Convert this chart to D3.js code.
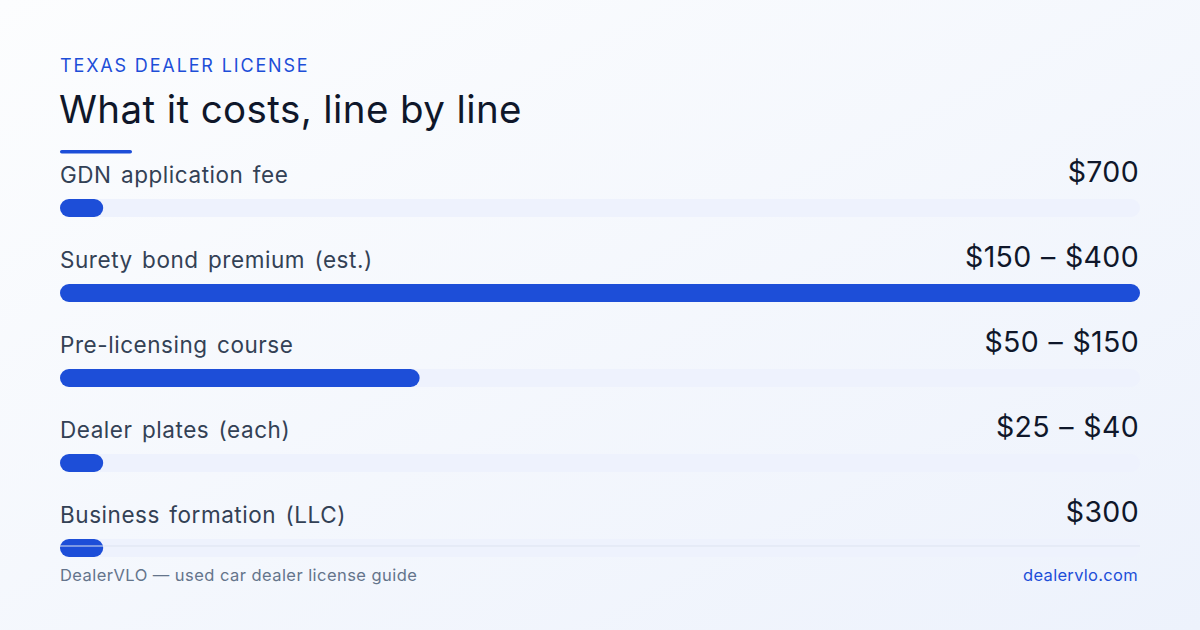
<!DOCTYPE html>
<html>
<head>
<meta charset="utf-8">
<script src="https://cdn.jsdelivr.net/npm/d3@7"></script>
<style>
  html, body { margin: 0; padding: 0; }
  body { width: 1200px; height: 630px; overflow: hidden; font-family: Inter, "Noto Sans", sans-serif; }
</style>
</head>
<body>
<div id="chart"></div>
<script>
const width = 1200,
  height = 630;
const margin = { top: 0, right: 60, bottom: 0, left: 60 };

// line items, their price text and the bar fill share
const items = [
  "GDN application fee",
  "Surety bond premium (est.)",
  "Pre-licensing course",
  "Dealer plates (each)",
  "Business formation (LLC)",
];
const prices = ["$700", "$150 – $400", "$50 – $150", "$25 – $40", "$300"];
const shares = [0.04, 1, 0.333, 0.04, 0.04];

const blue = "#1d4ed8";

const svg = d3
  .select("#chart")
  .append("svg")
  .attr("width", width)
  .attr("height", height);

const defs = svg.append("defs");
const grad = defs
  .append("linearGradient")
  .attr("id", "bg")
  .attr("x1", "0")
  .attr("y1", "0")
  .attr("x2", "1")
  .attr("y2", "1");
grad.append("stop").attr("offset", "0%").attr("stop-color", "#fcfdfe");
grad.append("stop").attr("offset", "100%").attr("stop-color", "#edf2fc");

svg.append("rect").attr("width", width).attr("height", height).attr("fill", "url(#bg)");

// header
svg
  .append("text")
  .attr("x", 60)
  .attr("y", 72)
  .attr("fill", blue)
  .attr("font-size", 18)
  .attr("letter-spacing", 1.85)
  .text("TEXAS DEALER LICENSE");

svg
  .append("text")
  .attr("x", 59)
  .attr("y", 123)
  .attr("fill", "#0f172a")
  .attr("font-size", 38.5)
  .attr("letter-spacing", 0.4)
  .text("What it costs, line by line");

svg
  .append("rect")
  .attr("x", 60)
  .attr("y", 150)
  .attr("width", 72)
  .attr("height", 3.5)
  .attr("rx", 1.75)
  .attr("fill", blue);

// rows
const x = d3.scaleLinear().domain([0, 1]).range([margin.left, width - margin.right]);
const y = d3.scaleBand().domain(items).range([155, 580]);

const barH = 18;

const row = svg
  .selectAll(".row")
  .data(items)
  .enter()
  .append("g")
  .attr("class", "row")
  .attr("transform", (d) => `translate(0,${y(d)})`);

row
  .append("text")
  .attr("x", x(0))
  .attr("y", 28)
  .attr("fill", "#334155")
  .attr("font-size", 22.5)
  .attr("letter-spacing", 0.55)
  .attr("word-spacing", 2.5)
  .text((d) => d);

row
  .append("text")
  .attr("x", x(1) - 1)
  .attr("y", 27)
  .attr("text-anchor", "end")
  .attr("fill", "#0f172a")
  .attr("font-size", 28.5)
  .attr("letter-spacing", 0.35)
  .attr("word-spacing", 1)
  .text((d, i) => prices[i]);

row
  .append("rect")
  .attr("class", "track")
  .attr("x", x(0))
  .attr("y", 44)
  .attr("width", x(1) - x(0))
  .attr("height", barH)
  .attr("rx", barH / 2)
  .attr("fill", "#eef2fd");

row
  .append("rect")
  .attr("class", "bar")
  .attr("x", x(0))
  .attr("y", 44)
  .attr("width", (d, i) => x(shares[i]) - x(0))
  .attr("height", barH)
  .attr("rx", barH / 2)
  .attr("fill", blue);

// footer rule, drawn over the last bar
svg
  .append("line")
  .attr("x1", x(0))
  .attr("x2", x(1))
  .attr("y1", 546)
  .attr("y2", 546)
  .attr("stroke", "#dde3f0")
  .attr("stroke-width", 1);

svg
  .append("text")
  .attr("x", 60)
  .attr("y", 581)
  .attr("fill", "#64748b")
  .attr("font-size", 16.5)
  .attr("letter-spacing", 0.45)
  .text("DealerVLO — used car dealer license guide");

svg
  .append("text")
  .attr("x", 1138)
  .attr("y", 581)
  .attr("text-anchor", "end")
  .attr("fill", blue)
  .attr("font-size", 16.5)
  .attr("letter-spacing", 0.3)
  .text("dealervlo.com");
</script>
</body>
</html>
